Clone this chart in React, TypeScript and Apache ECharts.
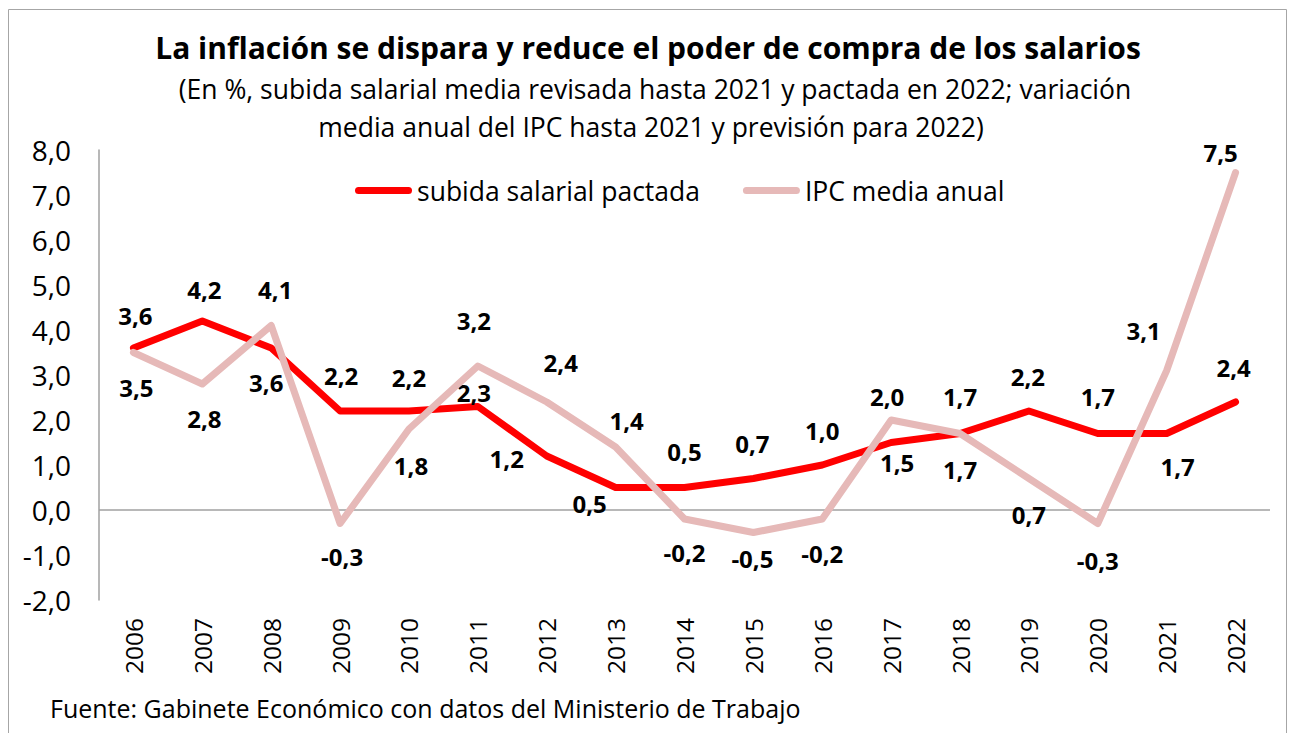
import React, { useEffect, useRef } from 'react';
import * as echarts from 'echarts';

const years = ['2006', '2007', '2008', '2009', '2010', '2011', '2012', '2013', '2014', '2015', '2016', '2017', '2018', '2019', '2020', '2021', '2022'];
const salaryValues = [3.6, 4.2, 3.6, 2.2, 2.2, 2.3, 1.2, 0.5, 0.5, 0.7, 1.0, 1.5, 1.7, 2.2, 1.7, 1.7, 2.4];
const ipcValues = [3.5, 2.8, 4.1, -0.3, 1.8, 3.2, 2.4, 1.4, -0.2, -0.5, -0.2, 2.0, 1.7, 0.7, -0.3, 3.1, 7.5];

const salaryName = 'subida salarial pactada';
const ipcName = 'IPC media anual';

const titleText = 'La inflación se dispara y reduce el poder de compra de los salarios';
const subtitleLines = [
  '(En %, subida salarial media revisada hasta 2021 y pactada en 2022; variación',
  'media anual del IPC hasta 2021 y previsión para 2022)',
];
const sourceText = 'Fuente: Gabinete Económico con datos del Ministerio de Trabajo';

// label placement (dx, dy from each point)
const salaryLabelOffsets = [
  [2, -33], [2, -32], [-5, 34], [1, -36], [0, -34], [-4, -14], [-40, 2], [-26, 16], [0, -36],
  [-1, -35], [0, -35], [6, 20], [0, -37], [-1, -35], [0, -37], [11, 33], [-2, -35],
];
const ipcLabelOffsets = [
  [3, 35], [2, 34], [4, -36], [2, 33], [2, 36], [-4, -46], [14, -40], [11, -27], [0, 33],
  [-1, 26], [0, 34], [-4, -24], [0, 36], [0, 36], [0, 37], [-23, -40], [-15, -20],
];

const FONT = 'Open Sans';
const fmt = (v: number) => v.toFixed(1).replace('.', ',');
const capsule = 'path://M3.5,0 L53.5,0 A3.5,3.5 0 0 1 53.5,7 L3.5,7 A3.5,3.5 0 0 1 3.5,0 Z';

function buildData(values: number[], offsets: number[][]) {
  return values.map((v, i) => ({
    value: v,
    label: { offset: offsets[i] },
  }));
}

export default function App() {
  const ref = useRef<HTMLDivElement>(null);
  useEffect(() => {
    if (!ref.current) return;
    const chart = echarts.init(ref.current, null, { renderer: 'svg' });
    const labelCfg = {
      show: true,
      position: 'inside',
      formatter: (p: any) => fmt(p.value),
      fontFamily: FONT,
      fontWeight: 'bold',
      fontSize: 24,
      color: '#000',
    };
    chart.setOption({
      animation: false,
      backgroundColor: '#fff',
      textStyle: { fontFamily: FONT },
      graphic: [
        {
          type: 'rect',
          silent: true,
          z: -10,
          shape: { x: 8.5, y: 9.5, width: 1278, height: 800 },
          style: { fill: 'none', stroke: '#a6a6a6', lineWidth: 1 },
        },
        {
          type: 'text',
          x: 648,
          y: 47,
          style: {
            text: titleText,
            fontFamily: FONT,
            fontWeight: 'bold',
            fontSize: 30,
            fill: '#000',
            textAlign: 'center',
            textVerticalAlign: 'middle',
          },
        },
        {
          type: 'text',
          x: 655,
          y: 89,
          style: {
            text: subtitleLines[0],
            fontFamily: FONT,
            fontSize: 26.5,
            fill: '#000',
            textAlign: 'center',
            textVerticalAlign: 'middle',
          },
        },
        {
          type: 'text',
          x: 651,
          y: 127,
          style: {
            text: subtitleLines[1],
            fontFamily: FONT,
            fontSize: 26.5,
            fill: '#000',
            textAlign: 'center',
            textVerticalAlign: 'middle',
          },
        },
        {
          type: 'text',
          x: 50,
          y: 708,
          style: {
            text: sourceText,
            fontFamily: FONT,
            fontSize: 25,
            fill: '#000',
            textAlign: 'left',
            textVerticalAlign: 'middle',
          },
        },
      ],
      legend: {
        left: 355,
        top: 177,
        itemWidth: 57,
        itemHeight: 7,
        itemGap: 43,
        padding: 0,
        textStyle: { fontFamily: FONT, fontSize: 26.5, color: '#000' },
        data: [
          { name: salaryName, icon: capsule },
          { name: ipcName, icon: capsule },
        ],
      },
      grid: { left: 99, right: 20, top: 150, bottom: 133, containLabel: false },
      xAxis: {
        type: 'category',
        data: years,
        boundaryGap: true,
        axisLine: { show: false },
        axisTick: { show: false },
        axisLabel: {
          interval: 0,
          rotate: 90,
          margin: 18,
          fontFamily: FONT,
          fontSize: 24.5,
          color: '#000',
        },
        splitLine: { show: false },
      },
      yAxis: {
        type: 'value',
        min: -2,
        max: 8,
        interval: 1,
        axisLine: { show: true, lineStyle: { color: '#a0a0a0', width: 1.5 } },
        axisTick: { show: false },
        splitLine: { show: false },
        axisLabel: {
          margin: 28,
          fontFamily: FONT,
          fontSize: 28,
          color: '#000',
          formatter: (v: number) => fmt(v),
        },
      },
      series: [
        {
          name: salaryName,
          type: 'line',
          data: buildData(salaryValues, salaryLabelOffsets),
          symbol: 'circle',
          symbolSize: 1,
          showSymbol: true,
          itemStyle: { color: '#ff0000' },
          lineStyle: { color: '#ff0000', width: 7, cap: 'round', join: 'round' },
          label: labelCfg,
          z: 2,
          markLine: {
            silent: true,
            symbol: ['none', 'none'],
            label: { show: false },
            lineStyle: { color: '#a0a0a0', width: 1.5, type: 'solid' },
            data: [{ yAxis: 0 }],
            z: 1,
          },
        },
        {
          name: ipcName,
          type: 'line',
          data: buildData(ipcValues, ipcLabelOffsets),
          symbol: 'circle',
          symbolSize: 1,
          showSymbol: true,
          itemStyle: { color: '#e6b9b8' },
          lineStyle: { color: '#e6b9b8', width: 7, cap: 'round', join: 'round' },
          label: labelCfg,
          z: 3,
        },
      ],
    });
    return () => chart.dispose();
  }, []);
  return (
    <div
      ref={ref}
      style={{ position: 'absolute', left: 0, top: 0, width: 1290, height: 733 }}
    />
  );
}
